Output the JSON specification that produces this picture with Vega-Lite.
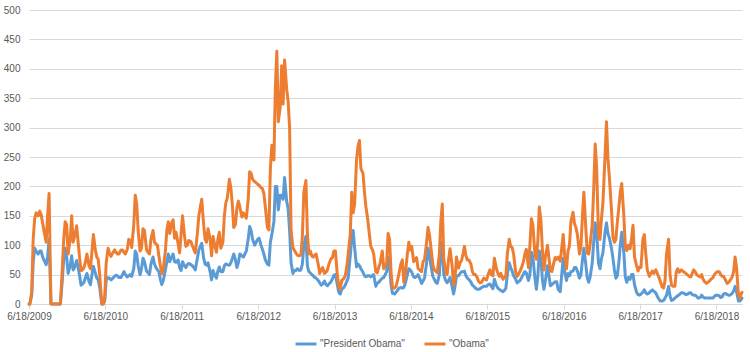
{
"$schema": "https://vega.github.io/schema/vega-lite/v6.json",
"width": 713, "height": 294,
"autosize": {"type": "none"},
"padding": {"left": 29, "top": 10, "right": 8, "bottom": 48},
"background": "white",
"config": {"view": {"stroke": null}, "font": "Liberation Sans"},
"data": {"values": [
{"d":"2009-06-18","p":0,"o":0},{"d":"2009-06-22","p":0,"o":0},
{"d":"2009-07-01","p":15,"o":20},{"d":"2009-07-08","p":70,"o":110},{"d":"2009-07-15","p":95,"o":145},{"d":"2009-07-22","p":90,"o":155},
{"d":"2009-08-01","p":85,"o":150},{"d":"2009-08-08","p":90,"o":158},{"d":"2009-08-15","p":90,"o":152},{"d":"2009-08-22","p":80,"o":138},
{"d":"2009-09-01","p":72,"o":118},{"d":"2009-09-08","p":67,"o":105},{"d":"2009-09-15","p":80,"o":150},{"d":"2009-09-22","p":110,"o":188},
{"d":"2009-10-01","p":0,"o":0},{"d":"2009-10-08","p":0,"o":0},{"d":"2009-10-15","p":0,"o":0},{"d":"2009-10-22","p":0,"o":0},
{"d":"2009-11-01","p":0,"o":0},{"d":"2009-11-08","p":0,"o":0},{"d":"2009-11-15","p":0,"o":0},{"d":"2009-11-22","p":30,"o":45},
{"d":"2009-12-01","p":75,"o":110},{"d":"2009-12-08","p":95,"o":140},{"d":"2009-12-15","p":80,"o":135},{"d":"2009-12-22","p":52,"o":85},
{"d":"2010-01-01","p":65,"o":110},{"d":"2010-01-08","p":82,"o":150},{"d":"2010-01-15","p":58,"o":105},{"d":"2010-01-22","p":62,"o":115},
{"d":"2010-02-01","p":74,"o":133},{"d":"2010-02-08","p":62,"o":105},{"d":"2010-02-15","p":48,"o":78},{"d":"2010-02-22","p":32,"o":57},
{"d":"2010-03-01","p":34,"o":58},{"d":"2010-03-08","p":37,"o":62},{"d":"2010-03-15","p":45,"o":72},{"d":"2010-03-22","p":52,"o":85},
{"d":"2010-04-01","p":38,"o":65},{"d":"2010-04-08","p":33,"o":60},{"d":"2010-04-15","p":50,"o":90},{"d":"2010-04-22","p":64,"o":118},
{"d":"2010-05-01","p":53,"o":92},{"d":"2010-05-08","p":44,"o":80},{"d":"2010-05-15","p":41,"o":76},{"d":"2010-05-22","p":28,"o":50},
{"d":"2010-06-01","p":0,"o":0},{"d":"2010-06-08","p":0,"o":0},{"d":"2010-06-15","p":5,"o":10},{"d":"2010-06-22","p":40,"o":70},
{"d":"2010-07-01","p":45,"o":95},{"d":"2010-07-08","p":44,"o":86},{"d":"2010-07-15","p":41,"o":81},{"d":"2010-07-22","p":43,"o":86},
{"d":"2010-08-01","p":47,"o":92},{"d":"2010-08-08","p":49,"o":88},{"d":"2010-08-15","p":48,"o":85},{"d":"2010-08-22","p":45,"o":85},
{"d":"2010-09-01","p":45,"o":92},{"d":"2010-09-08","p":50,"o":92},{"d":"2010-09-15","p":55,"o":88},{"d":"2010-09-22","p":50,"o":85},
{"d":"2010-10-01","p":46,"o":93},{"d":"2010-10-08","p":48,"o":110},{"d":"2010-10-15","p":50,"o":108},{"d":"2010-10-22","p":47,"o":96},
{"d":"2010-11-01","p":60,"o":135},{"d":"2010-11-08","p":90,"o":185},{"d":"2010-11-15","p":85,"o":170},{"d":"2010-11-22","p":65,"o":125},
{"d":"2010-12-01","p":50,"o":90},{"d":"2010-12-08","p":60,"o":95},{"d":"2010-12-15","p":78,"o":128},{"d":"2010-12-22","p":72,"o":125},
{"d":"2011-01-01","p":56,"o":92},{"d":"2011-01-08","p":53,"o":88},{"d":"2011-01-15","p":50,"o":85},{"d":"2011-01-22","p":68,"o":110},
{"d":"2011-02-01","p":80,"o":125},{"d":"2011-02-08","p":68,"o":105},{"d":"2011-02-15","p":62,"o":102},{"d":"2011-02-22","p":58,"o":100},
{"d":"2011-03-01","p":55,"o":82},{"d":"2011-03-08","p":42,"o":65},{"d":"2011-03-15","p":33,"o":52},{"d":"2011-03-22","p":40,"o":60},
{"d":"2011-04-01","p":58,"o":90},{"d":"2011-04-08","p":72,"o":125},{"d":"2011-04-15","p":85,"o":140},{"d":"2011-04-22","p":72,"o":120},
{"d":"2011-05-01","p":80,"o":138},{"d":"2011-05-08","p":85,"o":143},{"d":"2011-05-15","p":72,"o":112},{"d":"2011-05-22","p":71,"o":122},
{"d":"2011-06-01","p":75,"o":102},{"d":"2011-06-08","p":62,"o":87},{"d":"2011-06-15","p":57,"o":118},{"d":"2011-06-22","p":72,"o":150},
{"d":"2011-07-01","p":65,"o":118},{"d":"2011-07-08","p":62,"o":98},{"d":"2011-07-15","p":67,"o":100},{"d":"2011-07-22","p":69,"o":108},
{"d":"2011-08-01","p":67,"o":106},{"d":"2011-08-08","p":65,"o":99},{"d":"2011-08-15","p":62,"o":93},{"d":"2011-08-22","p":58,"o":87},
{"d":"2011-09-01","p":78,"o":120},{"d":"2011-09-08","p":92,"o":150},{"d":"2011-09-15","p":98,"o":165},{"d":"2011-09-22","p":103,"o":178},
{"d":"2011-10-01","p":78,"o":135},{"d":"2011-10-08","p":68,"o":110},{"d":"2011-10-15","p":66,"o":105},{"d":"2011-10-22","p":70,"o":128},
{"d":"2011-11-01","p":55,"o":110},{"d":"2011-11-08","p":41,"o":82},{"d":"2011-11-15","p":57,"o":115},{"d":"2011-11-22","p":50,"o":102},
{"d":"2011-12-01","p":44,"o":88},{"d":"2011-12-08","p":56,"o":110},{"d":"2011-12-15","p":63,"o":122},{"d":"2011-12-22","p":55,"o":95},
{"d":"2012-01-01","p":55,"o":105},{"d":"2012-01-08","p":65,"o":150},{"d":"2012-01-15","p":68,"o":172},{"d":"2012-01-22","p":67,"o":180},
{"d":"2012-02-01","p":66,"o":212},{"d":"2012-02-08","p":70,"o":198},{"d":"2012-02-15","p":77,"o":170},{"d":"2012-02-22","p":85,"o":130},
{"d":"2012-03-01","p":75,"o":135},{"d":"2012-03-08","p":62,"o":163},{"d":"2012-03-15","p":70,"o":175},{"d":"2012-03-22","p":85,"o":165},
{"d":"2012-04-01","p":82,"o":148},{"d":"2012-04-08","p":80,"o":155},{"d":"2012-04-15","p":85,"o":150},{"d":"2012-04-22","p":90,"o":146},
{"d":"2012-05-01","p":110,"o":178},{"d":"2012-05-08","p":132,"o":225},{"d":"2012-05-15","p":125,"o":222},{"d":"2012-05-22","p":110,"o":212},
{"d":"2012-06-01","p":100,"o":208},{"d":"2012-06-08","p":105,"o":206},{"d":"2012-06-15","p":110,"o":204},{"d":"2012-06-22","p":112,"o":202},
{"d":"2012-07-01","p":100,"o":198},{"d":"2012-07-08","p":93,"o":196},{"d":"2012-07-15","p":85,"o":188},{"d":"2012-07-22","p":75,"o":165},
{"d":"2012-08-01","p":68,"o":130},{"d":"2012-08-08","p":66,"o":126},{"d":"2012-08-15","p":105,"o":230},{"d":"2012-08-22","p":118,"o":270},
{"d":"2012-09-01","p":140,"o":245},{"d":"2012-09-08","p":200,"o":370},{"d":"2012-09-15","p":200,"o":430},{"d":"2012-09-22","p":160,"o":310},
{"d":"2012-10-01","p":185,"o":335},{"d":"2012-10-08","p":185,"o":405},{"d":"2012-10-15","p":178,"o":340},{"d":"2012-10-22","p":215,"o":415},
{"d":"2012-11-01","p":175,"o":365},{"d":"2012-11-08","p":162,"o":345},{"d":"2012-11-15","p":125,"o":300},{"d":"2012-11-22","p":70,"o":125},
{"d":"2012-12-01","p":52,"o":96},{"d":"2012-12-08","p":57,"o":91},{"d":"2012-12-15","p":57,"o":87},{"d":"2012-12-22","p":60,"o":83},
{"d":"2013-01-01","p":57,"o":82},{"d":"2013-01-08","p":58,"o":84},{"d":"2013-01-15","p":68,"o":115},{"d":"2013-01-22","p":100,"o":190},
{"d":"2013-02-01","p":115,"o":210},{"d":"2013-02-08","p":65,"o":120},{"d":"2013-02-15","p":55,"o":85},{"d":"2013-02-22","p":53,"o":90},
{"d":"2013-03-01","p":50,"o":82},{"d":"2013-03-08","p":48,"o":80},{"d":"2013-03-15","p":45,"o":83},{"d":"2013-03-22","p":44,"o":85},
{"d":"2013-04-01","p":40,"o":67},{"d":"2013-04-08","p":36,"o":52},{"d":"2013-04-15","p":32,"o":58},{"d":"2013-04-22","p":34,"o":62},
{"d":"2013-05-01","p":39,"o":52},{"d":"2013-05-08","p":33,"o":54},{"d":"2013-05-15","p":31,"o":58},{"d":"2013-05-22","p":34,"o":68},
{"d":"2013-06-01","p":38,"o":77},{"d":"2013-06-08","p":43,"o":79},{"d":"2013-06-15","p":49,"o":90},{"d":"2013-06-22","p":50,"o":90},
{"d":"2013-07-01","p":33,"o":50},{"d":"2013-07-08","p":20,"o":30},{"d":"2013-07-15","p":17,"o":25},{"d":"2013-07-22","p":25,"o":40},
{"d":"2013-08-01","p":28,"o":43},{"d":"2013-08-08","p":32,"o":48},{"d":"2013-08-15","p":38,"o":62},{"d":"2013-08-22","p":44,"o":85},
{"d":"2013-09-01","p":82,"o":118},{"d":"2013-09-08","p":110,"o":190},{"d":"2013-09-15","p":125,"o":155},{"d":"2013-09-22","p":95,"o":170},
{"d":"2013-10-01","p":63,"o":245},{"d":"2013-10-08","p":68,"o":268},{"d":"2013-10-15","p":65,"o":278},{"d":"2013-10-22","p":60,"o":230},
{"d":"2013-11-01","p":54,"o":222},{"d":"2013-11-08","p":48,"o":190},{"d":"2013-11-15","p":46,"o":165},{"d":"2013-11-22","p":48,"o":148},
{"d":"2013-12-01","p":48,"o":120},{"d":"2013-12-08","p":46,"o":98},{"d":"2013-12-15","p":48,"o":93},{"d":"2013-12-22","p":50,"o":85},
{"d":"2014-01-01","p":30,"o":55},{"d":"2014-01-08","p":35,"o":53},{"d":"2014-01-15","p":37,"o":62},{"d":"2014-01-22","p":40,"o":70},
{"d":"2014-02-01","p":44,"o":90},{"d":"2014-02-08","p":45,"o":60},{"d":"2014-02-15","p":50,"o":65},{"d":"2014-02-22","p":55,"o":70},
{"d":"2014-03-01","p":80,"o":120},{"d":"2014-03-08","p":66,"o":110},{"d":"2014-03-15","p":33,"o":55},{"d":"2014-03-22","p":18,"o":28},
{"d":"2014-04-01","p":17,"o":27},{"d":"2014-04-08","p":20,"o":30},{"d":"2014-04-15","p":23,"o":40},{"d":"2014-04-22","p":27,"o":52},
{"d":"2014-05-01","p":28,"o":68},{"d":"2014-05-08","p":27,"o":75},{"d":"2014-05-15","p":28,"o":37},{"d":"2014-05-22","p":35,"o":50},
{"d":"2014-06-01","p":50,"o":85},{"d":"2014-06-08","p":60,"o":105},{"d":"2014-06-15","p":58,"o":92},{"d":"2014-06-22","p":54,"o":98},
{"d":"2014-07-01","p":46,"o":72},{"d":"2014-07-08","p":45,"o":76},{"d":"2014-07-15","p":47,"o":79},{"d":"2014-07-22","p":50,"o":61},
{"d":"2014-08-01","p":42,"o":57},{"d":"2014-08-08","p":35,"o":55},{"d":"2014-08-15","p":39,"o":72},{"d":"2014-08-22","p":44,"o":75},
{"d":"2014-09-01","p":70,"o":105},{"d":"2014-09-08","p":95,"o":130},{"d":"2014-09-15","p":82,"o":117},{"d":"2014-09-22","p":65,"o":95},
{"d":"2014-10-01","p":47,"o":66},{"d":"2014-10-08","p":42,"o":58},{"d":"2014-10-15","p":37,"o":56},{"d":"2014-10-22","p":35,"o":53},
{"d":"2014-11-01","p":50,"o":85},{"d":"2014-11-08","p":90,"o":140},{"d":"2014-11-15","p":105,"o":170},{"d":"2014-11-22","p":50,"o":77},
{"d":"2014-12-01","p":40,"o":54},{"d":"2014-12-08","p":36,"o":50},{"d":"2014-12-15","p":40,"o":75},{"d":"2014-12-22","p":45,"o":94},
{"d":"2015-01-01","p":30,"o":65},{"d":"2015-01-08","p":17,"o":32},{"d":"2015-01-15","p":30,"o":45},{"d":"2015-01-22","p":48,"o":80},
{"d":"2015-02-01","p":48,"o":61},{"d":"2015-02-08","p":52,"o":70},{"d":"2015-02-15","p":55,"o":74},{"d":"2015-02-22","p":55,"o":85},
{"d":"2015-03-01","p":56,"o":98},{"d":"2015-03-08","p":48,"o":82},{"d":"2015-03-15","p":44,"o":75},{"d":"2015-03-22","p":42,"o":75},
{"d":"2015-04-01","p":37,"o":68},{"d":"2015-04-08","p":32,"o":55},{"d":"2015-04-15","p":30,"o":50},{"d":"2015-04-22","p":27,"o":50},
{"d":"2015-05-01","p":25,"o":45},{"d":"2015-05-08","p":25,"o":38},{"d":"2015-05-15","p":26,"o":36},{"d":"2015-05-22","p":28,"o":37},
{"d":"2015-06-01","p":30,"o":44},{"d":"2015-06-08","p":30,"o":42},{"d":"2015-06-15","p":30,"o":41},{"d":"2015-06-22","p":33,"o":50},
{"d":"2015-07-01","p":34,"o":58},{"d":"2015-07-08","p":30,"o":50},{"d":"2015-07-15","p":26,"o":48},{"d":"2015-07-22","p":42,"o":78},
{"d":"2015-08-01","p":31,"o":60},{"d":"2015-08-08","p":27,"o":52},{"d":"2015-08-15","p":25,"o":47},{"d":"2015-08-22","p":23,"o":52},
{"d":"2015-09-01","p":21,"o":42},{"d":"2015-09-08","p":23,"o":45},{"d":"2015-09-15","p":27,"o":48},{"d":"2015-09-22","p":50,"o":85},
{"d":"2015-10-01","p":70,"o":110},{"d":"2015-10-08","p":62,"o":98},{"d":"2015-10-15","p":56,"o":96},{"d":"2015-10-22","p":48,"o":85},
{"d":"2015-11-01","p":42,"o":54},{"d":"2015-11-08","p":36,"o":47},{"d":"2015-11-15","p":38,"o":51},{"d":"2015-11-22","p":40,"o":56},
{"d":"2015-12-01","p":46,"o":64},{"d":"2015-12-08","p":51,"o":72},{"d":"2015-12-15","p":55,"o":85},{"d":"2015-12-22","p":53,"o":93},
{"d":"2016-01-01","p":40,"o":62},{"d":"2016-01-08","p":50,"o":100},{"d":"2016-01-15","p":88,"o":145},{"d":"2016-01-22","p":80,"o":135},
{"d":"2016-02-01","p":44,"o":85},{"d":"2016-02-08","p":25,"o":76},{"d":"2016-02-15","p":48,"o":108},{"d":"2016-02-22","p":90,"o":165},
{"d":"2016-03-01","p":75,"o":140},{"d":"2016-03-08","p":40,"o":90},{"d":"2016-03-15","p":25,"o":58},{"d":"2016-03-22","p":40,"o":80},
{"d":"2016-04-01","p":65,"o":100},{"d":"2016-04-08","p":48,"o":78},{"d":"2016-04-15","p":31,"o":57},{"d":"2016-04-22","p":33,"o":55},
{"d":"2016-05-01","p":36,"o":70},{"d":"2016-05-08","p":38,"o":79},{"d":"2016-05-15","p":38,"o":76},{"d":"2016-05-22","p":25,"o":80},
{"d":"2016-06-01","p":21,"o":73},{"d":"2016-06-08","p":50,"o":95},{"d":"2016-06-15","p":78,"o":118},{"d":"2016-06-22","p":55,"o":83},
{"d":"2016-07-01","p":40,"o":60},{"d":"2016-07-08","p":52,"o":90},{"d":"2016-07-15","p":48,"o":99},{"d":"2016-07-22","p":55,"o":140},
{"d":"2016-08-01","p":56,"o":156},{"d":"2016-08-08","p":62,"o":137},{"d":"2016-08-15","p":62,"o":130},{"d":"2016-08-22","p":56,"o":118},
{"d":"2016-09-01","p":44,"o":85},{"d":"2016-09-08","p":50,"o":98},{"d":"2016-09-15","p":75,"o":150},{"d":"2016-09-22","p":95,"o":190},
{"d":"2016-10-01","p":68,"o":130},{"d":"2016-10-08","p":45,"o":87},{"d":"2016-10-15","p":37,"o":85},{"d":"2016-10-22","p":46,"o":102},
{"d":"2016-11-01","p":70,"o":135},{"d":"2016-11-08","p":106,"o":195},{"d":"2016-11-15","p":138,"o":272},{"d":"2016-11-22","p":122,"o":233},
{"d":"2016-12-01","p":69,"o":115},{"d":"2016-12-08","p":60,"o":110},{"d":"2016-12-15","p":77,"o":145},{"d":"2016-12-22","p":87,"o":172},
{"d":"2017-01-01","p":122,"o":250},{"d":"2017-01-08","p":138,"o":310},{"d":"2017-01-15","p":120,"o":248},{"d":"2017-01-22","p":112,"o":215},
{"d":"2017-02-01","p":95,"o":160},{"d":"2017-02-08","p":78,"o":114},{"d":"2017-02-15","p":58,"o":105},{"d":"2017-02-22","p":44,"o":110},
{"d":"2017-03-01","p":48,"o":140},{"d":"2017-03-08","p":70,"o":163},{"d":"2017-03-15","p":100,"o":190},{"d":"2017-03-22","p":122,"o":205},
{"d":"2017-04-01","p":88,"o":150},{"d":"2017-04-08","p":46,"o":98},{"d":"2017-04-15","p":37,"o":91},{"d":"2017-04-22","p":45,"o":100},
{"d":"2017-05-01","p":42,"o":94},{"d":"2017-05-08","p":50,"o":112},{"d":"2017-05-15","p":50,"o":134},{"d":"2017-05-22","p":33,"o":80},
{"d":"2017-06-01","p":20,"o":65},{"d":"2017-06-08","p":16,"o":56},{"d":"2017-06-15","p":15,"o":63},{"d":"2017-06-22","p":17,"o":62},
{"d":"2017-07-01","p":20,"o":110},{"d":"2017-07-08","p":24,"o":118},{"d":"2017-07-15","p":19,"o":85},{"d":"2017-07-22","p":17,"o":58},
{"d":"2017-08-01","p":19,"o":47},{"d":"2017-08-08","p":22,"o":52},{"d":"2017-08-15","p":24,"o":56},{"d":"2017-08-22","p":22,"o":52},
{"d":"2017-09-01","p":19,"o":58},{"d":"2017-09-08","p":13,"o":52},{"d":"2017-09-15","p":9,"o":46},{"d":"2017-09-22","p":5,"o":39},
{"d":"2017-10-01","p":5,"o":29},{"d":"2017-10-08","p":6,"o":27},{"d":"2017-10-15","p":10,"o":40},{"d":"2017-10-22","p":15,"o":85},
{"d":"2017-11-01","p":30,"o":110},{"d":"2017-11-08","p":13,"o":50},{"d":"2017-11-15","p":6,"o":32},{"d":"2017-11-22","p":7,"o":30},
{"d":"2017-12-01","p":10,"o":30},{"d":"2017-12-08","p":12,"o":55},{"d":"2017-12-15","p":14,"o":60},{"d":"2017-12-22","p":16,"o":54},
{"d":"2018-01-01","p":19,"o":58},{"d":"2018-01-08","p":19,"o":56},{"d":"2018-01-15","p":18,"o":54},{"d":"2018-01-22","p":16,"o":52},
{"d":"2018-02-01","p":17,"o":49},{"d":"2018-02-08","p":19,"o":47},{"d":"2018-02-15","p":19,"o":46},{"d":"2018-02-22","p":16,"o":52},
{"d":"2018-03-01","p":15,"o":58},{"d":"2018-03-08","p":15,"o":55},{"d":"2018-03-15","p":13,"o":50},{"d":"2018-03-22","p":10,"o":48},
{"d":"2018-04-01","p":11,"o":46},{"d":"2018-04-08","p":15,"o":50},{"d":"2018-04-15","p":12,"o":42},{"d":"2018-04-22","p":10,"o":38},
{"d":"2018-05-01","p":10,"o":35},{"d":"2018-05-08","p":10,"o":37},{"d":"2018-05-15","p":10,"o":39},{"d":"2018-05-22","p":10,"o":42},
{"d":"2018-06-01","p":10,"o":45},{"d":"2018-06-08","p":13,"o":50},{"d":"2018-06-15","p":15,"o":53},{"d":"2018-06-22","p":15,"o":55},
{"d":"2018-07-01","p":14,"o":55},{"d":"2018-07-08","p":11,"o":50},{"d":"2018-07-15","p":12,"o":47},{"d":"2018-07-22","p":17,"o":47},
{"d":"2018-08-01","p":18,"o":40},{"d":"2018-08-08","p":16,"o":35},{"d":"2018-08-15","p":15,"o":37},{"d":"2018-08-22","p":15,"o":40},
{"d":"2018-09-01","p":18,"o":46},{"d":"2018-09-08","p":22,"o":55},{"d":"2018-09-15","p":30,"o":80},{"d":"2018-09-22","p":21,"o":62},
{"d":"2018-10-01","p":5,"o":15},{"d":"2018-10-08","p":5,"o":10},{"d":"2018-10-15","p":8,"o":18},{"d":"2018-10-18","p":10,"o":20}
]},
"transform": [{"fold": ["p", "o"], "as": ["series", "value"]}],
"mark": {"type": "line", "strokeWidth": 3, "strokeJoin": "round", "strokeCap": "round"},
"encoding": {
  "x": {"field": "d", "type": "temporal",
    "scale": {"type": "utc", "domain": [{"year": 2009, "month": 6, "date": 18, "utc": true}, {"year": 2018, "month": 10, "date": 18, "utc": true}]},
    "axis": {"title": null, "grid": false,
      "labelExpr": "utcFormat(datum.value, '%-m/%-d/%Y')",
      "values": [{"year":2009,"month":6,"date":18,"utc":true},{"year":2010,"month":6,"date":18,"utc":true},{"year":2011,"month":6,"date":18,"utc":true},{"year":2012,"month":6,"date":18,"utc":true},{"year":2013,"month":6,"date":18,"utc":true},{"year":2014,"month":6,"date":18,"utc":true},{"year":2015,"month":6,"date":18,"utc":true},{"year":2016,"month":6,"date":18,"utc":true},{"year":2017,"month":6,"date":18,"utc":true},{"year":2018,"month":6,"date":18,"utc":true}],
      "domainColor": "#D9D9D9", "tickColor": "#D9D9D9", "tickSize": 5, "labelColor": "#595959", "labelFontSize": 10, "labelPadding": 2, "labelOverlap": false, "labelFlush": false}},
  "y": {"field": "value", "type": "quantitative",
    "scale": {"domain": [0, 500], "nice": false},
    "axis": {"title": null, "values": [0,50,100,150,200,250,300,350,400,450,500], "grid": true, "gridColor": "#D9D9D9", "domain": false, "ticks": false, "labelPadding": 9, "labelColor": "#595959", "labelFontSize": 10}},
  "color": {"field": "series", "type": "nominal",
    "scale": {"domain": ["p", "o"], "range": ["#5B9BD5", "#ED7D31"]},
    "legend": {"title": null, "orient": "none", "legendX": 265, "legendY": 322, "direction": "horizontal", "symbolType": "stroke", "symbolSize": 441, "symbolStrokeWidth": 3, "labelFontSize": 10, "labelColor": "#595959", "columnPadding": 13, "labelOffset": 2,
      "labelExpr": "datum.value === 'p' ? '\"President Obama\"' : '\"Obama\"'"}}
}
}
